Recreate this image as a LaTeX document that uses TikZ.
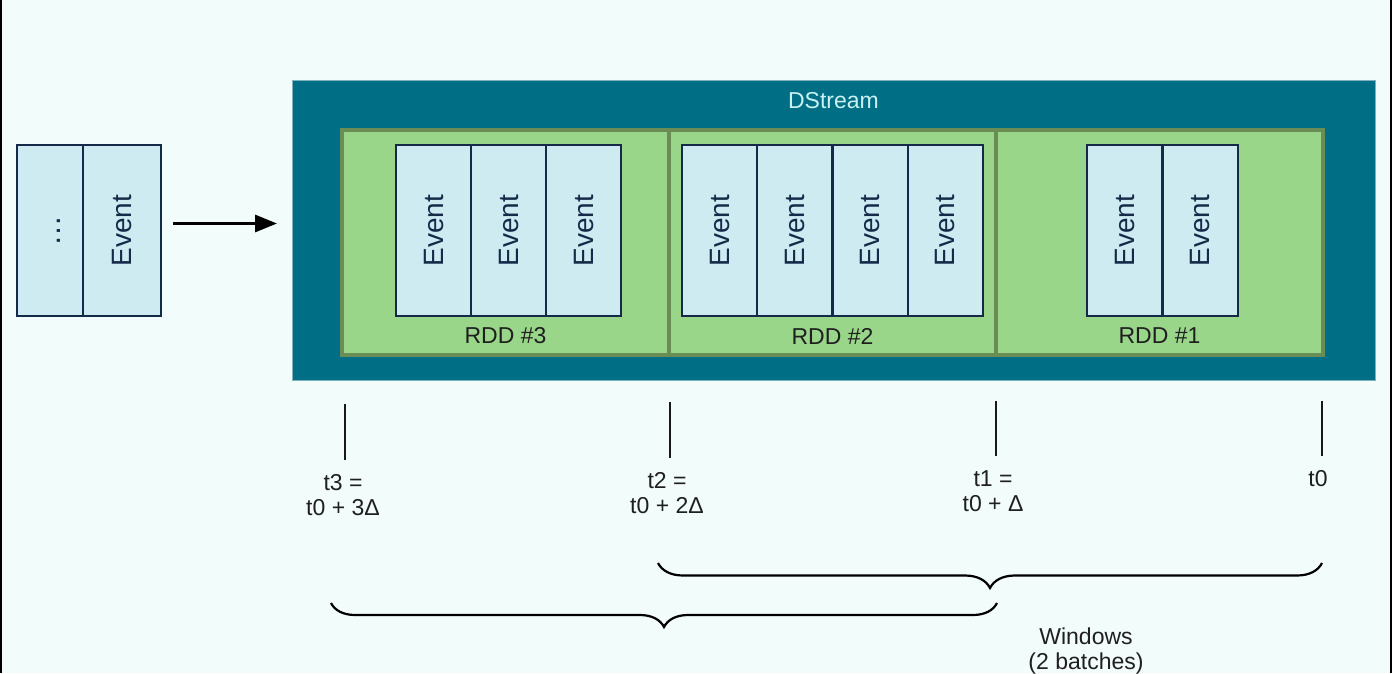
\documentclass[tikz,border=0pt]{standalone}
\usepackage{fontspec}
\setmainfont{Liberation Sans}
\usepackage{graphicx}
\usetikzlibrary{positioning}
\usetikzlibrary{calc}
\usetikzlibrary{arrows.meta}
\usetikzlibrary{decorations.pathreplacing}
\definecolor{bgcolor}{HTML}{F2FCFB}
\definecolor{streamfill}{HTML}{006F86}
\definecolor{streamedge}{HTML}{7FB2BE}
\definecolor{streamtext}{HTML}{C9F1F2}
\definecolor{rddfill}{HTML}{99D68A}
\definecolor{rddborder}{HTML}{6A8C55}
\definecolor{eventfill}{HTML}{CFEBF2}
\definecolor{eventborder}{HTML}{142A48}
\colorlet{textcolor}{black!88}
\newcommand{\eventfont}{\fontsize{28}{32}\selectfont}
\newcommand{\labelfont}{\fontsize{23}{25}\selectfont}
\tikzstyle{streambox}=[anchor=north west, draw=streamedge, line width=1pt, fill=streamfill, inner sep=0pt, outer sep=0pt]
\tikzstyle{rddbox}=[anchor=north west, draw=rddborder, line width=3.5pt, fill=rddfill, inner sep=0pt, outer sep=0pt, minimum width=327pt, minimum height=225pt]
\tikzstyle{eventcell}=[anchor=north west, draw=eventborder, line width=2pt, fill=eventfill, inner sep=0pt, outer sep=0pt, minimum width=75pt, minimum height=171pt, text=eventborder, font=\eventfont]
\tikzstyle{labeltext}=[textcolor, align=center, inner sep=0pt, font=\labelfont]
\tikzstyle{timetick}=[black!90, line width=2pt]
\tikzstyle{windowbrace}=[black, line width=2.2pt, decorate]

\begin{document}
\begin{tikzpicture}[x=1pt, y=-1pt]
    \fill[bgcolor] (0,0) rectangle (1392,673);
    \useasboundingbox (0,0) rectangle (1392,673);
    \fill[black] (0,0) rectangle (2,673);
    \fill[black] (1390,0) rectangle (1392,673);

    \begin{scope}[local bounding box=model]
        \node[eventcell, minimum width=66pt] at (17,145) (queueDots) {\rotatebox{90}{\rule{0pt}{20pt}\fontsize{31}{32}\selectfont …}};
        \node[eventcell, minimum width=78pt] at (83,145) (queueEvent) {\rotatebox{90}{Event}};

        \node[streambox, minimum width=1083pt, minimum height=300pt] at (292,80) (dstream) {};
        \node[labeltext, text=streamtext] at ($(dstream.north)+(0,21)$) (dstreamLabel) {DStream};

        \node[rddbox] at (342,130) (rddThree) {};
        \node[rddbox] at (669,130) (rddTwo) {};
        \node[rddbox] at (996,130) (rddOne) {};

        \node[labeltext] at ($(rddThree.south)+(0,-19)$) (rddThreeLabel) {RDD \#3};
        \node[labeltext] at ($(rddTwo.south)+(0,-19)$) (rddTwoLabel) {RDD \#2};
        \node[labeltext] at ($(rddOne.south)+(0,-19)$) (rddOneLabel) {RDD \#1};

        \foreach \i in {1,...,3}
            \node[eventcell] at ({396+75*(\i-1)},145) (rddThreeEvent\i) {\rotatebox{90}{Event}};
        \foreach \i in {1,...,4}
            \node[eventcell] at ({682+75.3*(\i-1)},145) (rddTwoEvent\i) {\rotatebox{90}{Event}};
        \foreach \i in {1,...,2}
            \node[eventcell] at ({1087+75.5*(\i-1)},145) (rddOneEvent\i) {\rotatebox{90}{Event}};

        % Time ticks
        \coordinate (tickThreeTop) at (345,404);
        \coordinate (tickThreeBottom) at (345,460);
        \coordinate (tickTwoTop) at (670,402);
        \coordinate (tickTwoBottom) at (670,458);
        \coordinate (tickOneTop) at (996,401);
        \coordinate (tickOneBottom) at (996,456);
        \coordinate (tickZeroTop) at (1322,401);
        \coordinate (tickZeroBottom) at (1322,456);

        \draw[timetick] (tickThreeTop) -- (tickThreeBottom);
        \draw[timetick] (tickTwoTop) -- (tickTwoBottom);
        \draw[timetick] (tickOneTop) -- (tickOneBottom);
        \draw[timetick] (tickZeroTop) -- (tickZeroBottom);

        \node[labeltext, anchor=north] at ($(tickThreeBottom)+(-2,14)$) (timeThree) {t3 =\\t0 + 3Δ};
        \node[labeltext, anchor=north] at ($(tickTwoBottom)+(-3,14)$) (timeTwo) {t2 =\\t0 + 2Δ};
        \node[labeltext, anchor=north] at ($(tickOneBottom)+(-3,14)$) (timeOne) {t1 =\\t0 + Δ};
        \node[labeltext, anchor=north] at ($(tickZeroBottom)+(-4,14)$) (timeZero) {t0};

        % Windows
        \coordinate (windowNewStart) at (658,563);
        \coordinate (windowNewEnd) at (1322,563);
        \coordinate (windowOldStart) at (331,603);
        \coordinate (windowOldEnd) at (997,603);

        \draw[windowbrace, decoration={brace, amplitude=25pt, aspect=0.5}] (windowNewEnd) -- (windowNewStart);
        \draw[windowbrace, decoration={brace, amplitude=24pt, aspect=0.5}] (windowOldEnd) -- (windowOldStart);

        \node[labeltext] at (1086,651) (windowsLabel) {Windows\\(2 batches)};

        % Arrows
        \draw[black, -{Triangle[length=22pt, width=17pt]}, line width=3pt, shorten <=12pt, shorten >=15pt] ([yshift=7pt]queueEvent.east) -- ([yshift=7pt]queueEvent.east -| dstream.west);
    \end{scope}
\end{tikzpicture}
\end{document}
